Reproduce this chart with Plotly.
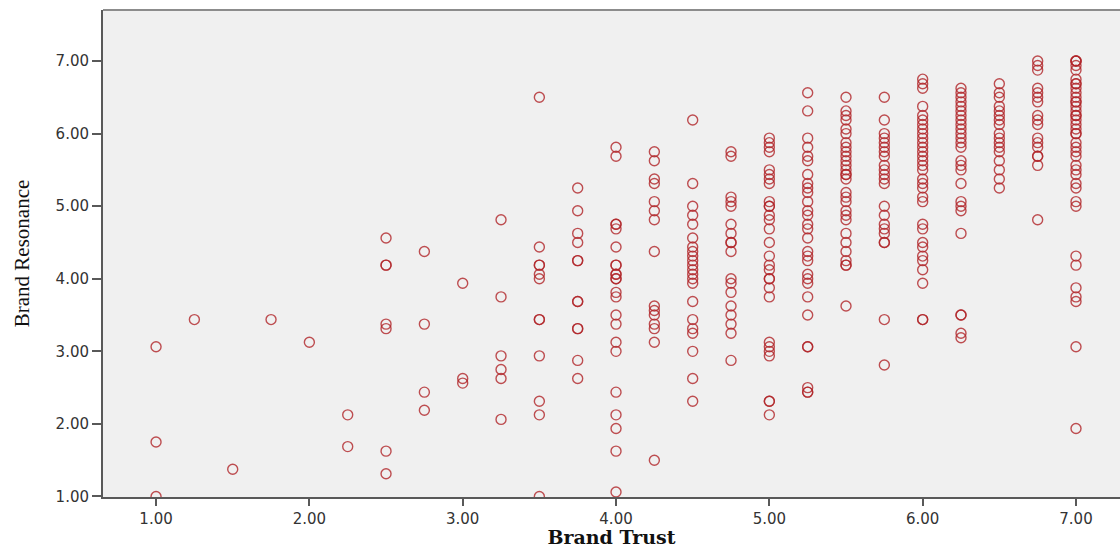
import plotly.graph_objects as go

# Brand Trust column values and the Brand Resonance values read for each column
trust_levels = [1.00, 1.25, 1.50, 1.75, 2.00, 2.25, 2.50, 2.75, 3.00, 3.25, 3.50, 3.75,
                4.00, 4.25, 4.50, 4.75, 5.00, 5.25, 5.50, 5.75, 6.00, 6.25, 6.50, 6.75, 7.00]

res_100 = [3.0625, 1.75, 1.0]
res_125 = [3.4375]
res_150 = [1.375]
res_175 = [3.4375]
res_200 = [3.125]
res_225 = [2.125, 1.6875]
res_250 = [4.5625, 4.1875, 4.1875, 3.375, 3.3125, 1.625, 1.3125]
res_275 = [4.375, 3.375, 2.4375, 2.1875]
res_300 = [3.9375, 2.625, 2.5625]
res_325 = [4.8125, 3.75, 2.9375, 2.75, 2.625, 2.0625]
res_350 = [6.5, 4.4375, 4.1875, 4.1875, 4.0625, 4.0, 3.4375, 3.4375, 2.9375, 2.3125, 2.125, 1.0]
res_375 = [5.25, 4.9375, 4.625, 4.5, 4.25, 4.25, 3.6875, 3.6875, 3.3125, 3.3125, 2.875, 2.625]
res_400 = [5.8125, 5.6875, 4.75, 4.75, 4.6875, 4.4375, 4.1875, 4.1875, 4.0625, 4.0625, 4.0, 4.0,
           3.8125, 3.75, 3.5, 3.375, 3.125, 3.0, 2.4375, 2.125, 1.9375, 1.625, 1.0625]
res_425 = [5.75, 5.625, 5.375, 5.3125, 5.0625, 4.9375, 4.8125, 4.375, 3.625, 3.5625, 3.5, 3.375,
           3.3125, 3.125, 1.5]
res_450 = [6.1875, 5.3125, 5.0, 4.875, 4.75, 4.5625, 4.4375, 4.375, 4.3125, 4.25, 4.1875, 4.125,
           4.0625, 4.0, 3.9375, 3.6875, 3.4375, 3.3125, 3.25, 3.0, 2.625, 2.3125]
res_475 = [5.75, 5.6875, 5.125, 5.0625, 5.0, 4.75, 4.625, 4.5, 4.5, 4.375, 4.0, 3.9375, 3.8125,
           3.625, 3.5, 3.375, 3.25, 2.875]
res_500 = [5.9375, 5.875, 5.8125, 5.75, 5.5, 5.4375, 5.375, 5.3125, 5.0625, 5.0, 5.0, 4.875,
           4.8125, 4.6875, 4.5, 4.3125, 4.1875, 4.125, 4.0, 4.0, 3.875, 3.75, 3.125, 3.0625,
           3.0, 2.9375, 2.3125, 2.3125, 2.125]
res_525 = [6.5625, 6.3125, 5.9375, 5.8125, 5.6875, 5.625, 5.4375, 5.3125, 5.25, 5.1875, 5.0625,
           4.9375, 4.875, 4.75, 4.6875, 4.5625, 4.375, 4.3125, 4.25, 4.0625, 4.0, 3.9375, 3.75,
           3.5, 3.0625, 3.0625, 2.5, 2.4375, 2.4375]
res_550 = [6.5, 6.3125, 6.25, 6.1875, 6.0625, 6.0, 5.875, 5.8125, 5.75, 5.6875, 5.625, 5.5625,
           5.5, 5.4375, 5.4375, 5.375, 5.1875, 5.125, 5.0625, 4.9375, 4.875, 4.8125, 4.625, 4.5,
           4.375, 4.25, 4.1875, 4.1875, 3.625]
res_575 = [6.5, 6.1875, 6.0, 5.9375, 5.875, 5.8125, 5.75, 5.6875, 5.5625, 5.5, 5.4375, 5.375,
           5.3125, 5.0, 4.875, 4.75, 4.6875, 4.625, 4.5, 4.5, 3.4375, 2.8125]
res_600 = [6.75, 6.6875, 6.625, 6.375, 6.25, 6.1875, 6.125, 6.0625, 6.0, 5.9375, 5.875, 5.8125,
           5.75, 5.6875, 5.625, 5.5625, 5.5, 5.375, 5.3125, 5.25, 5.125, 5.0625, 4.75, 4.6875,
           4.5, 4.4375, 4.3125, 4.25, 4.125, 3.9375, 3.4375, 3.4375]
res_625 = [6.625, 6.5625, 6.5, 6.4375, 6.375, 6.3125, 6.25, 6.1875, 6.125, 6.0625, 6.0, 5.9375,
           5.875, 5.8125, 5.625, 5.5625, 5.5, 5.3125, 5.0625, 5.0, 4.9375, 4.625, 3.5, 3.5,
           3.25, 3.1875]
res_650 = [6.6875, 6.5625, 6.5, 6.375, 6.3125, 6.25, 6.1875, 6.125, 6.0, 5.9375, 5.875, 5.8125,
           5.75, 5.625, 5.5, 5.375, 5.25]
res_675 = [7.0, 6.9375, 6.875, 6.625, 6.5625, 6.5, 6.4375, 6.25, 6.1875, 6.125, 5.9375, 5.875,
           5.8125, 5.6875, 5.6875, 5.5625, 4.8125]
res_700 = [7.0, 7.0, 7.0, 6.9375, 6.875, 6.75, 6.6875, 6.6875, 6.625, 6.5625, 6.5, 6.4375,
           6.4375, 6.375, 6.3125, 6.25, 6.25, 6.1875, 6.125, 6.0625, 6.0, 6.0, 5.875, 5.8125,
           5.75, 5.6875, 5.5625, 5.5, 5.4375, 5.3125, 5.25, 5.0625, 5.0, 4.3125, 4.1875, 3.875,
           3.75, 3.6875, 3.0625, 1.9375]

columns = [res_100, res_125, res_150, res_175, res_200, res_225, res_250, res_275, res_300,
           res_325, res_350, res_375, res_400, res_425, res_450, res_475, res_500, res_525,
           res_550, res_575, res_600, res_625, res_650, res_675, res_700]

tick_vals = [1, 2, 3, 4, 5, 6, 7]
tick_text = ["1.00", "2.00", "3.00", "4.00", "5.00", "6.00", "7.00"]

xs, ys = [], []
for t, col in zip(trust_levels, columns):
    for v in col:
        xs.append(t)
        ys.append(v)

fig = go.Figure(go.Scatter(
    x=xs, y=ys, mode="markers",
    marker=dict(symbol="circle-open", size=10, color="rgba(176,36,40,0.8)",
                line=dict(width=1.4, color="rgba(176,36,40,0.8)")),
    hoverinfo="x+y",
))

axis_color = "#595959"
fig.update_layout(
    width=1120, height=548,
    margin=dict(l=103, r=0, t=10, b=51),
    paper_bgcolor="white", plot_bgcolor="#F0F0F0",
    showlegend=False,
    xaxis=dict(range=[0.654, 7.287], tickvals=tick_vals, ticktext=tick_text,
               showgrid=False, zeroline=False, showline=True, linecolor=axis_color,
               linewidth=2, ticks="outside", ticklen=7, tickwidth=2, tickcolor=axis_color,
               tickfont=dict(family="DejaVu Sans", size=15, color="#333333"),
               title=dict(text="<b>Brand Trust</b>", standoff=6,
                          font=dict(family="DejaVu Serif", size=19, color="#111111"))),
    yaxis=dict(range=[0.993, 7.703], tickvals=tick_vals, ticktext=tick_text,
               showgrid=False, zeroline=False, showline=True, linecolor=axis_color,
               linewidth=2, ticks="outside", ticklen=9, tickwidth=2, tickcolor=axis_color,
               tickfont=dict(family="DejaVu Sans", size=15, color="#333333"),
               title=dict(text="Brand Resonance", standoff=20,
                          font=dict(family="Liberation Serif", size=21, color="#111111"))),
    shapes=[dict(type="line", xref="paper", yref="paper", x0=0, x1=1, y0=1, y1=1,
                 line=dict(color="#8C8C8C", width=2))],
)

fig.write_html("out.html")
